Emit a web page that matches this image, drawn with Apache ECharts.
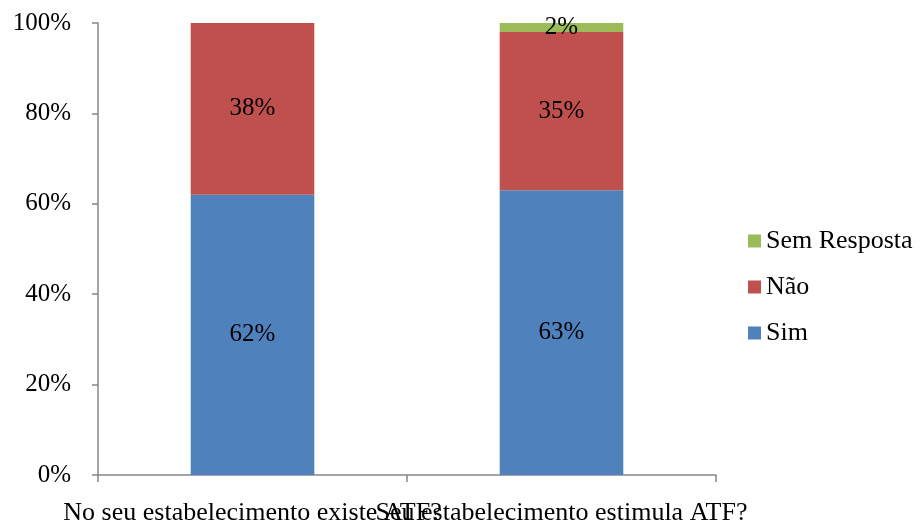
<!DOCTYPE html>
<html>
<head>
<meta charset="utf-8">
<script src="https://cdn.jsdelivr.net/npm/echarts@6/dist/echarts.min.js"></script>
<style>
  html, body { margin: 0; padding: 0; background: #fff; }
  #chart { width: 920px; height: 529px; }
</style>
</head>
<body>
<div id="chart"></div>
<script>
const categories = ['No seu estabelecimento existe ATF?', 'Seu estabelecimento estimula ATF?']
const sim = [62, 63]
const nao = [38, 35]
const semResposta = [0, 2]
const yTicks = [0, 20, 40, 60, 80, 100]

const font = 'Liberation Serif, Times New Roman, serif'

const chart = echarts.init(document.getElementById('chart'))

function barSeries(name, data, color) {
  return {
    name: name,
    type: 'bar',
    stack: 'total',
    barWidth: '40%',
    data: data,
    itemStyle: { color: color },
    label: {
      show: true,
      position: 'inside',
      color: '#000',
      fontFamily: font,
      fontSize: 25,
      formatter: (p) => (p.value > 0 ? p.value + '%' : ''),
    },
  }
}

chart.setOption({
  animation: false,
  textStyle: { fontFamily: font },
  grid: { left: 98, right: 204, top: 23, bottom: 54 },
  legend: {
    orient: 'vertical',
    left: 743,
    top: 223,
    itemWidth: 13,
    itemHeight: 13,
    itemGap: 20,
    icon: 'rect',
    data: ['Sem Resposta', 'Não', 'Sim'],
    textStyle: { fontFamily: font, fontSize: 26, color: '#000' },
  },
  xAxis: {
    type: 'category',
    data: categories,
    axisLine: { lineStyle: { color: '#868686', width: 1.5 } },
    axisTick: { show: true, length: 7, lineStyle: { color: '#868686', width: 1.5 } },
    axisLabel: {
      interval: 0,
      hideOverlap: false,
      color: '#000',
      fontFamily: font,
      fontSize: 26,
      margin: 25,
    },
  },
  yAxis: {
    type: 'value',
    min: yTicks[0],
    max: yTicks[yTicks.length - 1],
    interval: 20,
    splitLine: { show: false },
    axisLine: { show: true, lineStyle: { color: '#868686', width: 1.5 } },
    axisTick: { show: true, length: 6, lineStyle: { color: '#868686', width: 1.5 } },
    axisLabel: {
      color: '#000',
      fontFamily: font,
      fontSize: 25,
      margin: 27,
      formatter: '{value}%',
    },
  },
  series: [
    barSeries('Sim', sim, '#4F81BD'),
    barSeries('Não', nao, '#C0504D'),
    barSeries('Sem Resposta', semResposta, '#9BBB59'),
  ],
})
</script>
</body>
</html>
